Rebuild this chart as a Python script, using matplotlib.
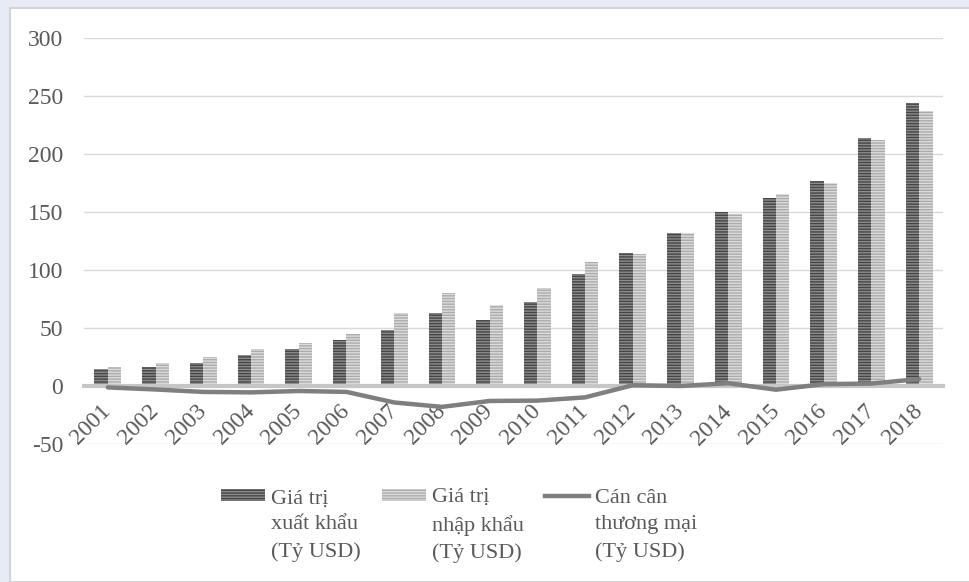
import numpy as np
import matplotlib
matplotlib.use("Agg")
import matplotlib.pyplot as plt
from matplotlib.patches import Patch, Rectangle
from matplotlib.lines import Line2D
from matplotlib.legend_handler import HandlerPatch, HandlerLine2D

years = ["2001", "2002", "2003", "2004", "2005", "2006", "2007", "2008", "2009",
         "2010", "2011", "2012", "2013", "2014", "2015", "2016", "2017", "2018"]
export_vals = [15.0, 16.2, 19.8, 26.3, 32.0, 39.5, 48.6, 62.7, 57.1,
               72.2, 96.9, 114.5, 132.0, 150.0, 162.0, 176.6, 214.0, 244.0]
import_vals = [16.0, 19.5, 25.0, 31.8, 36.8, 44.9, 62.8, 80.5, 69.5,
               84.8, 106.7, 113.8, 132.0, 148.0, 165.6, 175.0, 212.0, 237.5]
balance_vals = [-1.2, -3.0, -5.1, -5.5, -4.3, -5.1, -14.2, -18.0, -12.9,
                -12.6, -9.8, 0.7, 0.0, 2.4, -3.2, 1.6, 2.1, 6.0]
legend_labels = ["Giá trị\nxuất khẩu\n(Tỷ USD)",
                 "Giá trị\nnhập khẩu\n(Tỷ USD)",
                 "Cán cân\nthương mại\n(Tỷ USD)"]

text_col = "#595959"
exp_face, exp_hatch = "#8c8c8c", "#454545"
imp_face, imp_hatch = "#dcdcdc", "#ababab"
bal_col = "#7f7f7f"

plt.rcParams["font.family"] = ["Liberation Serif", "DejaVu Serif"]
plt.rcParams["hatch.linewidth"] = 1.0
plt.rcParams["axes.unicode_minus"] = False

fig = plt.figure(figsize=(9.69, 5.82), dpi=100, facecolor="#e7ebf5")
# white chart panel behind everything
fig.patches.append(Rectangle((10 / 969, 0), 1.0, 1 - 8 / 582, transform=fig.transFigure,
                             facecolor="white", edgecolor="#d4d4d4", lw=1.5, zorder=-5))

ax = fig.add_axes([84 / 969, 1 - 444 / 582, (943 - 84) / 969, (444 - 38) / 582])
ax.set_facecolor("none")

x = np.arange(len(years))
w = 0.28
ax.bar(x - w / 2, export_vals, w, facecolor=exp_face, edgecolor=exp_hatch,
       hatch="------", lw=0, zorder=2)
ax.bar(x + w / 2, import_vals, w, facecolor=imp_face, edgecolor=imp_hatch,
       hatch="------", lw=0, zorder=2)
ax.plot(x, balance_vals, color=bal_col, lw=3.2, zorder=4, solid_capstyle="round")

ax.set_xlim(-0.5, len(years) - 0.5)
ax.set_ylim(-50, 300)
ax.set_yticks(np.arange(-50, 301, 50))
ax.yaxis.grid(True, color="#d9d9d9", lw=1)
ax.set_axisbelow(True)
for s in ["top", "right", "left"]:
    ax.spines[s].set_visible(False)
ax.spines["bottom"].set_position(("data", 0))
ax.spines["bottom"].set_color("#c6c6c6")
ax.spines["bottom"].set_linewidth(3)
ax.spines["bottom"].set_zorder(3)

ax.set_xticks(x)
ax.set_xticklabels(years, rotation=45, ha="right", va="center", rotation_mode="anchor")
ax.tick_params(axis="x", length=0, pad=16, labelsize=17, labelcolor=text_col)
ax.tick_params(axis="y", length=0, pad=15, labelsize=17, labelcolor=text_col)


# legend handles sit on the first line of each label
shift = 21


class TopPatch(HandlerPatch):
    def create_artists(self, *args, **kw):
        arts = super().create_artists(*args, **kw)
        for a in arts:
            a.set_y(a.get_y() + shift)
        return arts


class TopLine(HandlerLine2D):
    def create_artists(self, *args, **kw):
        arts = super().create_artists(*args, **kw)
        for a in arts:
            a.set_ydata(np.asarray(a.get_ydata()) + shift)
        return arts


h_exp = Patch(facecolor=exp_face, edgecolor=exp_hatch, hatch="------", lw=0)
h_imp = Patch(facecolor=imp_face, edgecolor=imp_hatch, hatch="------", lw=0)
h_bal = Line2D([], [], color=bal_col, lw=3.2)
leg = fig.legend([h_exp, h_imp, h_bal], legend_labels, ncol=3, frameon=False,
                 loc="upper left", bbox_to_anchor=(221 / 969, 1 - 488 / 582),
                 borderpad=0, borderaxespad=0, fontsize=16, handlelength=2.0,
                 handleheight=0.45, handletextpad=0.25, columnspacing=0.95,
                 handler_map={Patch: TopPatch(), Line2D: TopLine()})
for t in leg.get_texts():
    t.set_color(text_col)
    t.set_linespacing(1.5)

fig.savefig("out.png", dpi=100, facecolor=fig.get_facecolor())
